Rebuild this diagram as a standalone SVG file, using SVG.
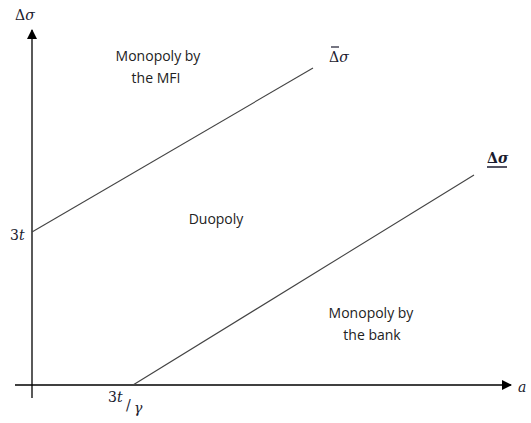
<svg xmlns="http://www.w3.org/2000/svg" width="531" height="423" viewBox="0 0 531 423">
<defs>
<marker id="ah" markerWidth="10" markerHeight="10" refX="9" refY="5" orient="auto" markerUnits="userSpaceOnUse">
<path d="M0,0 L10,5 L0,10 Z" fill="#000"/>
</marker>
</defs>
<style>
.lbl{font-family:"Open Sans","Liberation Sans","DejaVu Sans",sans-serif;font-size:14px;fill:#222;text-anchor:middle}
.math{font-family:"DejaVu Serif","Liberation Serif",serif;font-size:14px;fill:#1a1a2e}
.ax{stroke:#000;stroke-width:1.3;fill:none}
.ln{stroke:#444;stroke-width:1.1;fill:none}
</style>
<rect width="531" height="423" fill="#fff"/>
<g id="connectors">
<line class="ax" x1="32" y1="398" x2="32" y2="30" marker-end="url(#ah)"/>
<line class="ax" x1="15" y1="385" x2="511" y2="385" marker-end="url(#ah)"/>
<line class="ln" x1="32" y1="232" x2="313" y2="68"/>
<line class="ln" x1="133" y1="385" x2="474" y2="175"/>
</g>
<g id="yaxis-label"><text class="math" x="15" y="20"><tspan>Δ</tspan><tspan font-style="italic">σ</tspan></text></g>
<g id="xaxis-label"><text class="math" x="518" y="392" font-style="italic">a</text></g>
<g id="mfi-region"><text class="lbl" x="158" y="61">Monopoly by</text><text class="lbl" x="156" y="83">the MFI</text></g>
<g id="upper-label"><text class="math" x="329" y="62"><tspan>Δ</tspan><tspan font-style="italic">σ</tspan></text><line x1="331" y1="47" x2="339" y2="47" stroke="#1a1a2e" stroke-width="1.2"/></g>
<g id="lower-label"><text class="math" x="487" y="163" font-weight="bold"><tspan>Δ</tspan><tspan font-style="italic">σ</tspan></text><line x1="487" y1="167" x2="507" y2="167" stroke="#1a1a2e" stroke-width="1.5"/></g>
<g id="duopoly"><text class="lbl" x="216" y="224">Duopoly</text></g>
<g id="bank-region"><text class="lbl" x="371" y="318">Monopoly by</text><text class="lbl" x="372" y="340">the bank</text></g>
<g id="y-intercept"><text class="math" x="10" y="240">3<tspan font-style="italic">t</tspan></text></g>
<g id="x-intercept"><text class="math" x="108" y="402">3<tspan font-style="italic">t</tspan></text><text class="math" x="126" y="410" font-size="17">/</text><text class="math" x="134" y="413" font-style="italic">γ</text></g>
</svg>
